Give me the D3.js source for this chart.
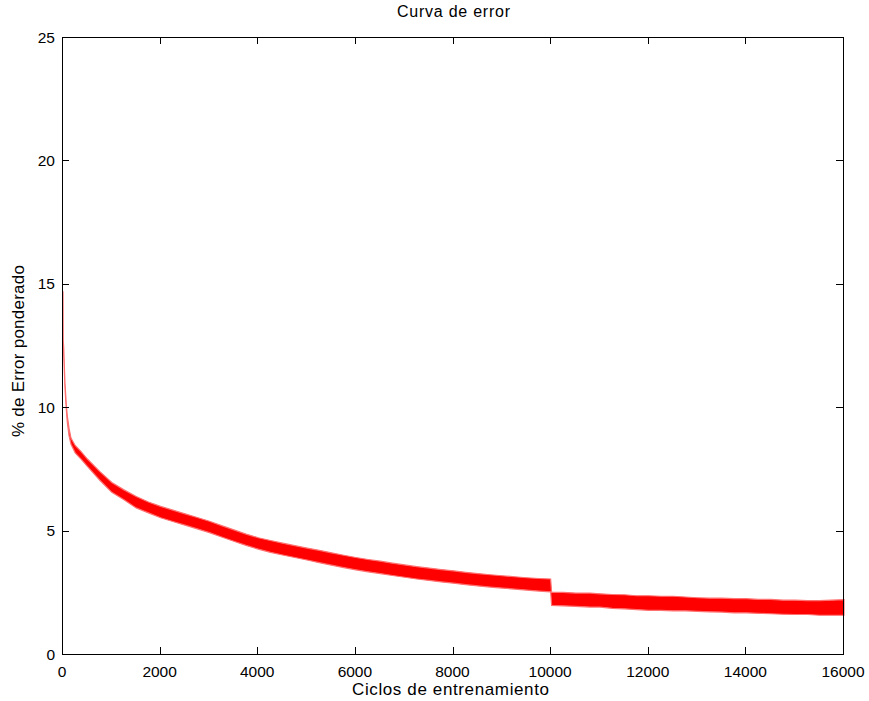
<!DOCTYPE html>
<html><head><meta charset="utf-8">
<script src="https://cdn.jsdelivr.net/npm/d3@7"></script>
<style>body{margin:0;background:#fff}svg{display:block}text{font-family:"Liberation Sans",Arial,sans-serif;fill:#000}</style>
</head><body><svg id="c" width="869" height="701"></svg>
<script>
const titleText = "Curva de error";
const xLabelText = "Ciclos de entrenamiento";
const yLabelText = "% de Error ponderado";
const xTicks = [0,2000,4000,6000,8000,10000,12000,14000,16000];
const yTicks = [0,5,10,15,20,25];
const cycles = [0,5,15,27,40,55,68,88,123,164,250,370,500,750,1000,1250,1500,1750,2000,2250,2500,2750,3000,3250,3500,3750,4000,4250,4500,4750,5000,5250,5500,5750,6000,6250,6500,6750,7000,7250,7500,7750,8000,8250,8500,8750,9000,9250,9500,9750,9990,10010,10250,10500,10800,11000,11250,11500,11750,12000,12250,12500,12750,13000,13250,13500,13750,14000,14250,14500,14750,15000,15250,15500,15750,16000];
const errUpper = [14.7,12.7,12.4,11.7,11.0,10.5,10.1,9.65,9.15,8.75,8.45,8.2,7.9,7.4,6.95,6.65,6.38,6.16,5.98,5.83,5.68,5.53,5.38,5.2,5.03,4.86,4.71,4.6,4.49,4.39,4.29,4.2,4.1,4.0,3.91,3.83,3.76,3.68,3.61,3.54,3.48,3.42,3.37,3.31,3.26,3.21,3.17,3.13,3.09,3.06,3.04,2.5,2.5,2.47,2.47,2.44,2.41,2.4,2.36,2.36,2.34,2.34,2.31,2.28,2.26,2.26,2.24,2.24,2.21,2.21,2.18,2.18,2.16,2.16,2.18,2.2];
const errLower = [14.5,12.5,12.1,11.5,10.8,10.3,9.9,9.4,8.85,8.5,8.15,7.9,7.6,7.05,6.55,6.25,5.92,5.72,5.52,5.37,5.22,5.07,4.92,4.74,4.57,4.4,4.25,4.12,4.01,3.91,3.81,3.7,3.6,3.5,3.41,3.33,3.26,3.18,3.11,3.04,2.98,2.92,2.87,2.81,2.76,2.71,2.67,2.63,2.59,2.55,2.52,1.97,1.95,1.93,1.9,1.9,1.85,1.83,1.8,1.77,1.77,1.75,1.75,1.73,1.71,1.7,1.67,1.67,1.65,1.63,1.61,1.6,1.6,1.57,1.57,1.57];

const svg = d3.select("#c");
const L=62,R=843,T=37,B=654;
const x = d3.scaleLinear().domain([0,16000]).range([L,R]);
const y = d3.scaleLinear().domain([0,25]).range([B,T]);
const data = cycles.map((c,i)=>({c,u:errUpper[i],l:errLower[i]}));

const area = d3.area().x(d=>x(d.c)+1).y0(d=>y(d.l)).y1(d=>y(d.u));
svg.append("path").datum(data).attr("d",area).attr("fill","#ff0000").attr("stroke","#ff7070").attr("stroke-width",1.2);

const tl=7;
const g = svg.append("g").attr("stroke","#000").attr("stroke-width",1).attr("shape-rendering","crispEdges");
g.append("rect").attr("x",L+0.5).attr("y",T+0.5).attr("width",R-L).attr("height",B-T).attr("fill","none");
xTicks.forEach(t=>{const px=Math.round(x(t))+0.5;
  g.append("line").attr("x1",px).attr("x2",px).attr("y1",B).attr("y2",B-tl);
  g.append("line").attr("x1",px).attr("x2",px).attr("y1",T).attr("y2",T+tl);});
yTicks.forEach(t=>{const py=Math.round(y(t))+0.5;
  g.append("line").attr("x1",L).attr("x2",L+tl).attr("y1",py).attr("y2",py);
  g.append("line").attr("x1",R).attr("x2",R-tl).attr("y1",py).attr("y2",py);});

xTicks.forEach(t=>svg.append("text").attr("x",x(t)).attr("y",677).attr("text-anchor","middle").attr("font-size",15.5).text(t));
yTicks.forEach(t=>svg.append("text").attr("x",55).attr("y",y(t)+5.5).attr("text-anchor","end").attr("font-size",15.5).text(t));
svg.append("text").attr("x",453.5).attr("y",17).attr("text-anchor","middle").attr("font-size",16).attr("textLength",113).attr("lengthAdjust","spacing").text(titleText);
svg.append("text").attr("x",450.5).attr("y",695).attr("text-anchor","middle").attr("font-size",17).attr("textLength",197).attr("lengthAdjust","spacing").text(xLabelText);
svg.append("text").attr("transform",`translate(24,351) rotate(-90)`).attr("text-anchor","middle").attr("font-size",17).attr("textLength",172).attr("lengthAdjust","spacing").text(yLabelText);
</script></body></html>
